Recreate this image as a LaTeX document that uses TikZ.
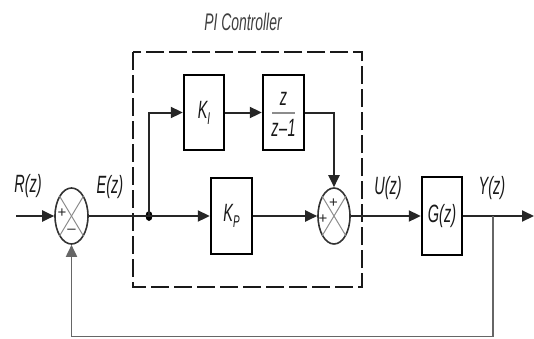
\documentclass[tikz,border=0pt]{standalone}
\usepackage{fontspec}
\newfontfamily\labfont[FakeStretch=0.58]{Liberation Sans}
\newfontfamily\sgnfont{Liberation Sans}
\usetikzlibrary{arrows.meta,shapes.geometric}
\begin{document}
\begin{tikzpicture}[x=1pt,y=-1pt,
  lab/.style={font=\labfont\itshape\fontsize{25}{27}\selectfont, inner sep=0pt, text=black!90},
  sgn/.style={font=\sgnfont\fontsize{15}{15}\selectfont, inner sep=0pt, text=black!85},
  blk/.style={draw=black, line width=2.4pt, minimum width=40pt, minimum height=75pt, inner sep=0pt,
              font=\labfont\itshape\fontsize{25}{27}\selectfont, text=black!90},
  sumnode/.style={draw=black!80, line width=1.6pt, ellipse, minimum width=33pt, minimum height=56pt, inner sep=0pt},
  crs/.style={draw=black!45, line width=1pt},
  wire/.style={draw=black!85, line width=2pt},
  arr/.style={wire, -{Triangle[length=12pt,width=11pt]}},
  fb/.style={draw=black!60, line width=1.8pt},
  fbarr/.style={fb, -{Triangle[length=12pt,width=11pt]}}]
\useasboundingbox (0,0) rectangle (534,338);

% dashed PI controller frame
\draw[line width=2.4pt, dash pattern=on 18pt off 5pt, black!90] (133,52) rectangle (362,287);
\node[lab, text=black!75, font=\labfont\itshape\fontsize{24}{26}\selectfont] (title) at (243,22) {PI Controller};

% blocks
\node[blk] (ki) at (204,112.5) {K\raisebox{-6pt}{\fontsize{17}{17}\selectfont I}};
\node[blk, minimum width=41pt] (zz) at (283.5,112.5) {};
\node[lab] (num) at (283.5,99) {z};
\node[lab] (den) at (283.5,128) {z\kern0.5pt\textendash\kern0.5pt1};
\draw[draw=black!45, line width=2pt] (272,113) -- (295,113);
\node[blk, minimum width=41pt, minimum height=76pt] (kp) at (231.5,216) {K\raisebox{-6pt}{\fontsize{17}{17}\selectfont P}};
\node[blk, minimum height=78pt] (g) at (442,216) {G(z)};

% summing junctions
\node[sumnode] (s1) at (71.5,216) {};
\draw[crs] (s1.59) -- (s1.239);
\draw[crs] (s1.121) -- (s1.301);
\node[sgn] (s1p) at (62,213) {+};
\node[sgn] (s1m) at (71.5,231) {\textendash};

\node[sumnode, minimum width=32pt] (s2) at (334,216) {};
\draw[crs] (s2.59) -- (s2.239);
\draw[crs] (s2.121) -- (s2.301);
\node[sgn] (s2t) at (333.5,203) {+};
\node[sgn] (s2l) at (323,219) {+};

% labels
\node[lab] (rl) at (28,186) {R(z)};
\node[lab] (el) at (110,187) {E(z)};
\node[lab] (ul) at (388,188) {U(z)};
\node[lab] (yl) at (492,188) {Y(z)};

% coordinates
\coordinate (rin) at (16,216);
\coordinate (yout) at (534,216);
\coordinate (br) at (493,216);
\coordinate (fbr) at (493,336.5);
\coordinate (fbl) at (71.5,336.5);
\node[ellipse, fill=black, minimum width=7pt, minimum height=10pt, inner sep=0pt] (dot) at (149,216) {};

% connectors
\draw[arr] (rin) -- (s1.west);
\draw[wire] (s1.east) -- (dot.center);
\draw[arr] (dot.center) -- (kp.west);
\draw[arr] (dot.center) |- (ki.west);
\draw[arr] (ki.east) -- (zz.west);
\draw[arr] (zz.east) -| (s2.north);
\draw[arr] (kp.east) -- (s2.west);
\draw[arr] (s2.east) -- (g.west);
\draw[arr] (g.east) -- (yout);
\draw[fb] (br) -- (fbr) -- (fbl);
\draw[fbarr] (fbl) -- (s1.south);
\end{tikzpicture}
\end{document}
